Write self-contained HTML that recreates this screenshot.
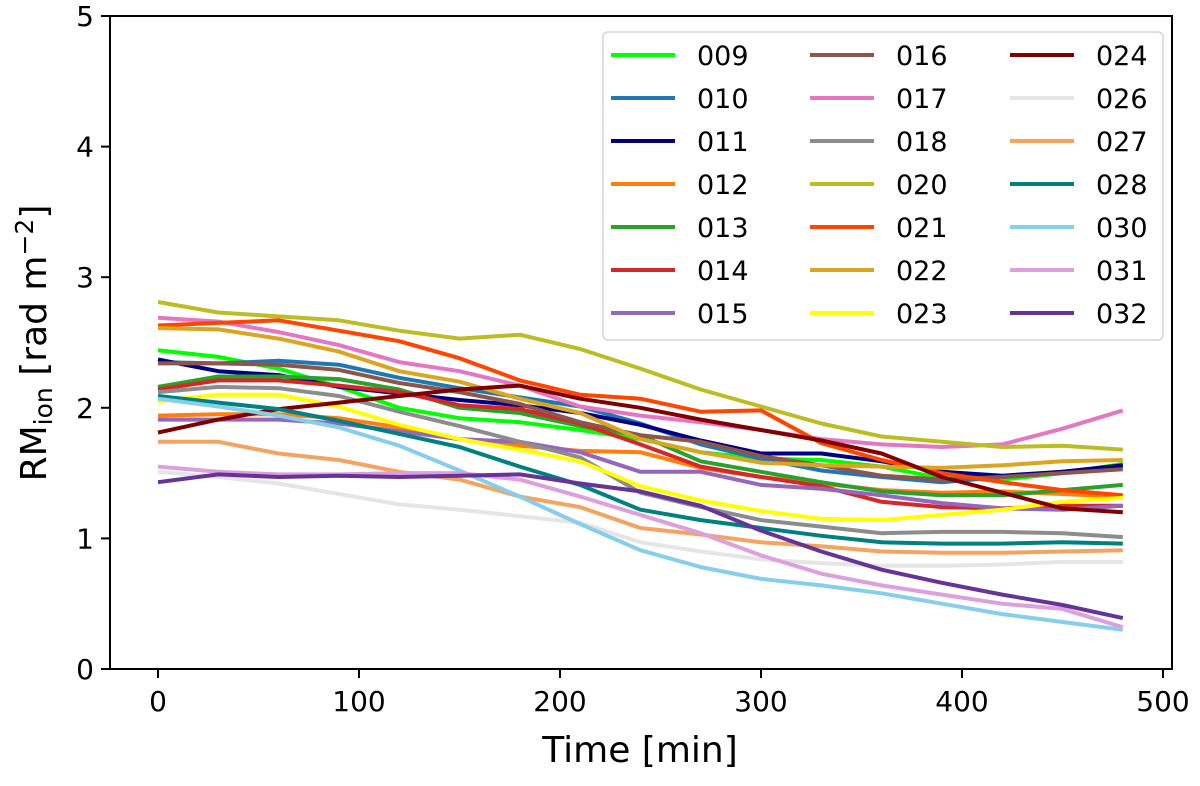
<!DOCTYPE html>
<html><head><meta charset="utf-8"><style>
body{margin:0;background:#fff}
svg text{font-family:"DejaVu Sans","Liberation Sans",sans-serif;fill:#000}
</style></head><body>
<svg width="1200" height="781" xmlns="http://www.w3.org/2000/svg">
<g id="plot"></g>
<g id="axes"></g>
<g id="legend"></g>
</svg>
<script>
const times=[0,30,60,90,120,150,180,210,240,270,300,330,360,390,420,450,480];
const seriesNames=["009","010","011","012","013","014","015","016","017","018","020","021","022","023","024","026","027","028","030","031","032"];
const seriesColors=["#00ff00","#1f77b4","#000080","#ff7f0e","#2ca02c","#d62728","#9467bd","#8c564b","#e377c2","#8c8c8c","#bcbd22","#ff4500","#daa520","#ffff00","#800000","#e5e5e5","#f4a460","#008080","#87ceeb","#dda0dd","#663399"];
const s009=[2.44,2.39,2.30,2.16,2.00,1.92,1.89,1.83,1.76,1.66,1.61,1.60,1.55,1.46,1.45,1.50,1.57];
const s010=[2.35,2.34,2.36,2.33,2.23,2.15,2.08,2.01,1.88,1.72,1.61,1.52,1.47,1.43,1.47,1.51,1.55];
const s011=[2.37,2.28,2.25,2.16,2.11,2.06,2.02,1.96,1.87,1.75,1.65,1.65,1.59,1.51,1.48,1.51,1.56];
const s012=[1.94,1.95,1.95,1.92,1.85,1.76,1.71,1.67,1.66,1.54,1.47,1.42,1.37,1.35,1.36,1.34,1.32];
const s013=[2.16,2.24,2.24,2.22,2.14,2.00,1.96,1.86,1.79,1.59,1.51,1.43,1.36,1.33,1.33,1.37,1.41];
const s014=[2.14,2.21,2.21,2.17,2.12,2.02,1.99,1.88,1.72,1.55,1.47,1.40,1.28,1.24,1.23,1.25,1.25];
const s015=[1.91,1.91,1.91,1.88,1.82,1.76,1.74,1.66,1.51,1.51,1.41,1.38,1.33,1.27,1.23,1.22,1.25];
const s016=[2.34,2.34,2.33,2.29,2.19,2.12,2.03,1.89,1.79,1.74,1.63,1.56,1.48,1.45,1.47,1.50,1.53];
const s017=[2.69,2.66,2.58,2.48,2.35,2.28,2.17,2.01,1.94,1.89,1.83,1.76,1.72,1.70,1.72,1.84,1.98];
const s018=[2.12,2.16,2.15,2.09,1.97,1.86,1.74,1.62,1.35,1.24,1.14,1.09,1.04,1.05,1.05,1.04,1.01];
const s020=[2.81,2.73,2.70,2.67,2.59,2.53,2.56,2.45,2.30,2.14,2.01,1.88,1.78,1.74,1.70,1.71,1.68];
const s021=[2.63,2.65,2.67,2.59,2.51,2.38,2.21,2.10,2.07,1.97,1.98,1.73,1.60,1.50,1.43,1.37,1.33];
const s022=[2.61,2.60,2.53,2.43,2.28,2.20,2.07,1.96,1.76,1.66,1.58,1.56,1.55,1.54,1.56,1.59,1.60];
const s023=[2.05,2.10,2.10,2.01,1.87,1.76,1.68,1.59,1.40,1.29,1.21,1.15,1.14,1.18,1.22,1.28,1.31];
const s024=[1.81,1.91,1.99,2.04,2.09,2.14,2.17,2.07,2.00,1.91,1.83,1.75,1.65,1.47,1.35,1.23,1.20];
const s026=[1.51,1.47,1.42,1.34,1.26,1.22,1.17,1.12,0.97,0.90,0.84,0.81,0.79,0.79,0.80,0.82,0.82];
const s027=[1.74,1.74,1.65,1.60,1.51,1.45,1.32,1.24,1.08,1.03,0.97,0.94,0.90,0.89,0.89,0.90,0.91];
const s028=[2.09,2.04,1.99,1.90,1.80,1.70,1.55,1.41,1.22,1.14,1.08,1.02,0.97,0.96,0.96,0.97,0.96];
const s030=[2.07,2.01,1.94,1.85,1.71,1.52,1.32,1.11,0.91,0.78,0.69,0.64,0.58,0.50,0.42,0.36,0.30];
const s031=[1.55,1.51,1.49,1.49,1.50,1.50,1.45,1.32,1.18,1.04,0.87,0.73,0.64,0.57,0.50,0.46,0.32];
const s032=[1.43,1.49,1.47,1.48,1.47,1.48,1.49,1.42,1.36,1.25,1.06,0.90,0.76,0.66,0.57,0.49,0.39];
const seriesValues=[s009,s010,s011,s012,s013,s014,s015,s016,s017,s018,s020,s021,s022,s023,s024,s026,s027,s028,s030,s031,s032];
const xTicks=[0,100,200,300,400,500];
const yTicks=[0,1,2,3,4,5];
const legendNames=["009","010","011","012","013","014","015","016","017","018","020","021","022","023","024","026","027","028","030","031","032"];

const NS="http://www.w3.org/2000/svg";
const L=110,R=1172,T=16,B=669;
function xs(v){return 158+(v)*(1163-158)/500;}
function ys(v){return B-(v/5)*(B-T);}
function mk(tag,attrs,parent){const e=document.createElementNS(NS,tag);for(const k in attrs)e.setAttribute(k,attrs[k]);parent.appendChild(e);return e;}
const plot=document.getElementById('plot'),axes=document.getElementById('axes'),leg=document.getElementById('legend');

seriesValues.forEach((vals,i)=>{
  const d=vals.map((v,j)=>(j?'L':'M')+xs(times[j]).toFixed(1)+' '+ys(v).toFixed(1)).join(' ');
  const p=mk('path',{d:d,fill:'none',stroke:seriesColors[i],'stroke-width':4,'stroke-linejoin':'round'},plot);
  
  
});

const frame=mk('rect',{x:L,y:T,width:R-L,height:B-T,fill:'none',stroke:'#000','stroke-width':2},axes);


xTicks.forEach(v=>{
  const x=xs(v);
  mk('line',{x1:x,x2:x,y1:B,y2:B+9,stroke:'#000','stroke-width':2},axes);
  const t=mk('text',{x:x,y:B+42,'text-anchor':'middle','font-size':28},axes);
  t.textContent=v;
  
  
});
yTicks.forEach(v=>{
  const y=ys(v);
  mk('line',{x1:L-9,x2:L,y1:y,y2:y,stroke:'#000','stroke-width':2},axes);
  const t=mk('text',{x:L-16,y:y+10,'text-anchor':'end','font-size':28},axes);
  t.textContent=v;
  
  
});
const xt=mk('text',{x:640,y:762,'text-anchor':'middle','font-size':36},axes);
xt.textContent='Time [min]';


const yt=mk('text',{x:0,y:0,'text-anchor':'middle','font-size':36,transform:'translate(46,343) rotate(-90)'},axes);
yt.innerHTML='RM<tspan font-size="25" dy="6">ion</tspan><tspan dy="-6"> [rad m</tspan><tspan font-size="25" dy="-13">−2</tspan><tspan dy="13">]</tspan>';



const box=mk('rect',{x:603,y:32,width:560,height:308,rx:5,fill:'#fff','fill-opacity':0.85,stroke:'#d6d6d6','stroke-width':1.5},leg);


const colX=[611,810,1010];
legendNames.forEach((n,i)=>{
  const c=Math.floor(i/7),r=i%7;
  const y=55+r*43;
  const g=mk('g',{},leg);
  
  
  mk('line',{x1:colX[c],x2:colX[c]+64,y1:y,y2:y,stroke:seriesColors[seriesNames.indexOf(n)],'stroke-width':4},g);
  const t=mk('text',{x:colX[c]+86,y:y+10,'font-size':27},g);
  t.textContent=n;
});
</script>
</body></html>
